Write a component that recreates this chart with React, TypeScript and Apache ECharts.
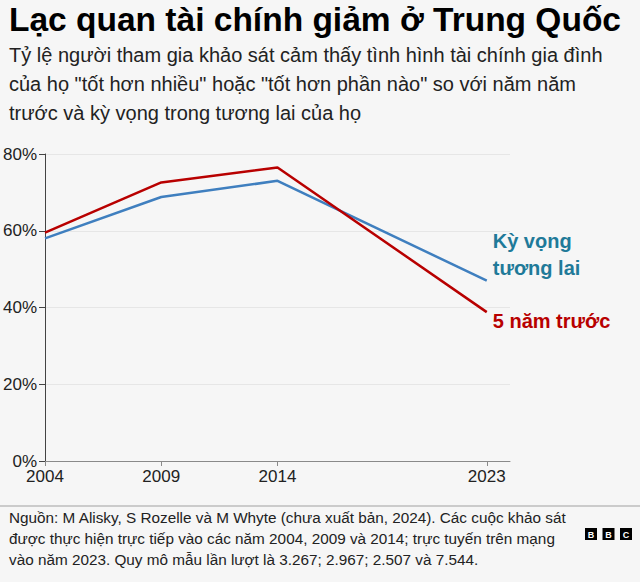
import React, { useEffect, useRef } from "react";
import * as echarts from "echarts";

const years = [2004, 2009, 2014, 2023];
const pastFive = [59.5, 72.6, 76.5, 38.8];
const future = [58.0, 68.8, 73.0, 47.0];
const yTicks = [0, 20, 40, 60, 80];

const titleText = "Lạc quan tài chính giảm ở Trung Quốc";
const subtitleLines = [
  "Tỷ lệ người tham gia khảo sát cảm thấy tình hình tài chính gia đình",
  "của họ \"tốt hơn nhiều\" hoặc \"tốt hơn phần nào\" so với năm năm",
  "trước và kỳ vọng trong tương lai của họ",
];
const footerLines = [
  "Nguồn: M Alisky, S Rozelle và M Whyte (chưa xuất bản, 2024). Các cuộc khảo sát",
  "được thực hiện trực tiếp vào các năm 2004, 2009 và 2014; trực tuyến trên mạng",
  "vào năm 2023. Quy mô mẫu lần lượt là 3.267; 2.967; 2.507 và 7.544.",
];
const futureName = "Kỳ vọng\ntương lai";
const pastName = "5 năm trước";

const FONT = "'Liberation Sans', Arial, Helvetica, sans-serif";
const RED = "#b80000";
const BLUE = "#3f7fbf";
const TEAL = "#1f7a99";

export default function App() {
  const ref = useRef<HTMLDivElement>(null);
  useEffect(() => {
    if (!ref.current) return;
    const chart = echarts.init(ref.current, null, { renderer: "svg" });
    const graphic: any[] = [
      {
        type: "text",
        left: 9,
        top: 2,
        style: { text: titleText, font: `bold 33.5px ${FONT}`, fill: "#000" },
      },
      ...subtitleLines.map((t, i) => ({
        type: "text",
        left: 9,
        top: 45 + i * 29,
        style: { text: t, font: `20px ${FONT}`, fill: "#222" },
      })),
      {
        type: "line",
        shape: { x1: 0, y1: 506, x2: 640, y2: 506 },
        style: { stroke: "#a0a0a0", lineWidth: 1 },
      },
      ...footerLines.map((t, i) => ({
        type: "text",
        left: 9,
        top: 510 + i * 20.8,
        style: { text: t, font: `15.3px ${FONT}`, fill: "#222" },
      })),
      ...["B", "B", "C"].map((c, i) => ({
        type: "group",
        left: 585 + i * 17.5,
        top: 528,
        children: [
          { type: "rect", shape: { x: 0, y: 0, width: 12, height: 12 }, style: { fill: "#000" } },
          {
            type: "text",
            x: 6,
            y: 6.5,
            style: { text: c, font: `bold 9px ${FONT}`, fill: "#fff", align: "center", verticalAlign: "middle" },
          },
        ],
      })),
    ];
    chart.setOption({
      animation: false,
      backgroundColor: "#f6f6f6",
      graphic,
      grid: { left: 45, right: 130, top: 154, bottom: 121, containLabel: false },
      xAxis: {
        type: "value",
        min: 2004,
        max: 2024,
        splitLine: { show: false },
        axisLine: { show: true, lineStyle: { color: "#8a8a8a", width: 1 } },
        axisTick: { show: true, length: 5, customValues: years, lineStyle: { color: "#8a8a8a" } },
        axisLabel: {
          customValues: years,
          formatter: (v: number) => String(v),
          color: "#222",
          fontSize: 17,
          fontFamily: FONT,
          margin: 7,
        },
      },
      yAxis: {
        type: "value",
        min: 0,
        max: 80,
        interval: 20,
        splitLine: { show: true, lineStyle: { color: "#e6e6e6", width: 1 } },
        axisLine: { show: true, lineStyle: { color: "#444", width: 1 } },
        axisTick: { show: true, length: 6, lineStyle: { color: "#444" } },
        axisLabel: {
          formatter: (v: number) => (yTicks.includes(v) ? `${v}%` : ""),
          color: "#222",
          fontSize: 17,
          fontFamily: FONT,
          margin: 8,
        },
      },
      series: [
        {
          name: futureName,
          type: "line",
          data: years.map((y, i) => [y, future[i]]),
          showSymbol: false,
          lineStyle: { color: BLUE, width: 2.5 },
          itemStyle: { color: BLUE },
          endLabel: {
            show: true,
            formatter: futureName,
            color: TEAL,
            fontFamily: FONT,
            fontWeight: "bold",
            fontSize: 20,
            lineHeight: 27,
            distance: 6,
            offset: [0, -26],
          },
        },
        {
          name: pastName,
          type: "line",
          data: years.map((y, i) => [y, pastFive[i]]),
          showSymbol: false,
          lineStyle: { color: RED, width: 2.5 },
          itemStyle: { color: RED },
          endLabel: {
            show: true,
            formatter: pastName,
            color: RED,
            fontFamily: FONT,
            fontWeight: "bold",
            fontSize: 20,
            distance: 6,
            offset: [0, 9],
          },
        },
      ],
    });
    return () => chart.dispose();
  }, []);
  return (
    <div
      ref={ref}
      style={{ position: "absolute", left: 0, top: 0, width: 640, height: 582 }}
    />
  );
}
